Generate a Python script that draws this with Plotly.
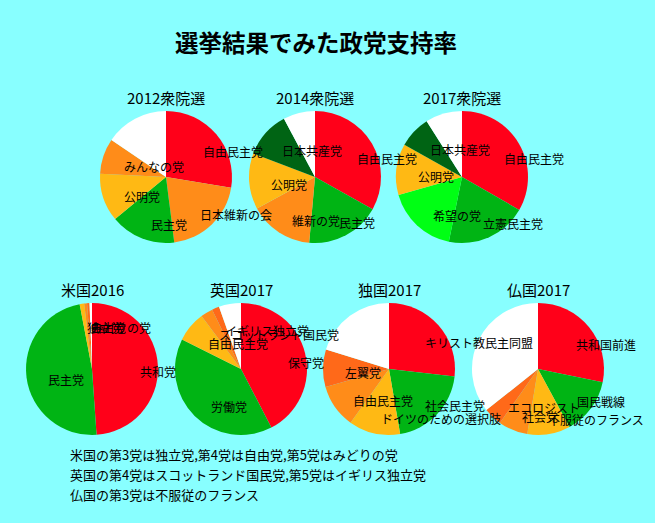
import math
import plotly.graph_objects as go

# ---------------- data ----------------
jp2012_parties = ["自由民主党", "日本維新の会", "民主党", "公明党", "みんなの党", "その他"]
jp2012_votes = [27.6, 20.4, 16.0, 11.8, 8.7, 15.5]

jp2014_parties = ["自由民主党", "民主党", "維新の党", "公明党", "日本共産党", "その他"]
jp2014_votes = [33.1, 18.3, 15.7, 13.7, 11.4, 7.8]

jp2017_parties = ["自由民主党", "立憲民主党", "希望の党", "公明党", "日本共産党", "その他"]
jp2017_votes = [33.3, 19.9, 17.4, 12.5, 7.9, 9.0]

us2016_parties = ["共和党", "民主党", "独立党", "自由党", "みどりの党", "その他"]
us2016_votes = [48.9, 48.1, 1.1, 0.7, 0.6, 0.6]

uk2017_parties = ["保守党", "労働党", "自由民主党", "スコットランド国民党", "イギリス独立党", "その他"]
uk2017_votes = [42.4, 40.0, 7.4, 3.0, 1.8, 5.4]

de2017_parties = ["キリスト教民主同盟", "社会民主党", "ドイツのための選択肢", "自由民主党", "左翼党", "その他"]
de2017_votes = [26.8, 20.5, 12.6, 10.7, 9.2, 20.2]

fr2017_parties = ["共和国前進", "国民戦線", "不服従のフランス", "社会党", "エコロジスト", "その他"]
fr2017_votes = [28.2, 13.9, 10.5, 7.2, 4.5, 35.7]

chart_titles = ["2012衆院選", "2014衆院選", "2017衆院選", "米国2016", "英国2017", "独国2017", "仏国2017"]
main_title = "選挙結果でみた政党支持率"
footnotes = [
    "米国の第3党は独立党,第4党は自由党,第5党はみどりの党",
    "英国の第4党はスコットランド国民党,第5党はイギリス独立党",
    "仏国の第3党は不服従のフランス",
]

# ---------------- styles ----------------
RED = "#FF0019"
GREEN = "#00B414"
ORANGE = "#FF8C19"
YELLOW = "#FFB914"
ORED = "#FF6919"
DGREEN = "#006414"
BGREEN = "#00FF14"
WHITE = "#FFFFFF"
BG = "#88FFFF"

W, H = 655, 523
R = 66
FONT = "Noto Sans CJK JP"

charts = [
    (jp2012_parties, jp2012_votes, [RED, ORANGE, GREEN, YELLOW, ORANGE, WHITE], (166, 177)),
    (jp2014_parties, jp2014_votes, [RED, GREEN, ORANGE, YELLOW, DGREEN, WHITE], (315, 177)),
    (jp2017_parties, jp2017_votes, [RED, GREEN, BGREEN, YELLOW, DGREEN, WHITE], (462, 177)),
    (us2016_parties, us2016_votes, [RED, GREEN, YELLOW, ORANGE, ORED, WHITE], (92, 369)),
    (uk2017_parties, uk2017_votes, [RED, GREEN, YELLOW, ORANGE, ORED, WHITE], (241, 369)),
    (de2017_parties, de2017_votes, [RED, GREEN, YELLOW, ORANGE, ORED, WHITE], (389, 369)),
    (fr2017_parties, fr2017_votes, [RED, GREEN, YELLOW, ORANGE, ORED, WHITE], (538, 369)),
]

fig = go.Figure()
annotations = []

for (parties, votes, colors, (cx, cy)), title in zip(charts, chart_titles):
    fig.add_trace(go.Pie(
        labels=parties, values=votes, sort=False, direction="clockwise", rotation=0,
        marker=dict(colors=colors, line=dict(width=0)),
        textinfo="none", hoverinfo="label+value", showlegend=False,
        domain=dict(x=[(cx - R) / W, (cx + R) / W], y=[1 - (cy + R) / H, 1 - (cy - R) / H]),
    ))
    # slice labels, left-aligned at mid-angle of each slice
    total = sum(votes)
    cum = 0.0
    for name, v in zip(parties, votes):
        mid = (cum + v / 2) / total * 2 * math.pi
        cum += v
        if name == "その他":
            continue
        px = cx + 0.70 * R * math.sin(mid)
        py = cy - 0.70 * R * math.cos(mid) + 4.5
        annotations.append(dict(
            x=px / W, y=1 - py / H, xref="paper", yref="paper",
            xanchor="left", yanchor="middle", showarrow=False,
            text=name, font=dict(family=FONT, size=12, color="black"),
        ))
    annotations.append(dict(
        x=cx / W, y=1 - (cy - R - 14) / H, xref="paper", yref="paper",
        xanchor="center", yanchor="middle", showarrow=False,
        text=title, font=dict(family=FONT, size=15, color="black"),
    ))

annotations.append(dict(
    x=316 / W, y=1 - 42 / H, xref="paper", yref="paper",
    xanchor="center", yanchor="middle", showarrow=False,
    text="<b>" + main_title + "</b>", font=dict(family=FONT, size=23.5, color="black"),
))

for i, line in enumerate(footnotes):
    annotations.append(dict(
        x=68 / W, y=1 - (454 + 20 * i) / H, xref="paper", yref="paper",
        xanchor="left", yanchor="middle", showarrow=False,
        text=line, font=dict(family=FONT, size=13, color="black"),
    ))

fig.update_layout(
    width=W, height=H,
    margin=dict(l=0, r=0, t=0, b=0),
    paper_bgcolor=BG, plot_bgcolor=BG,
    annotations=annotations,
)

fig.write_html(
    "out.html",
    config={"displayModeBar": False},
    post_script="document.body.style.margin='0';document.body.style.padding='0';"
                "document.body.style.overflow='hidden';document.body.style.background='" + BG + "';",
)
